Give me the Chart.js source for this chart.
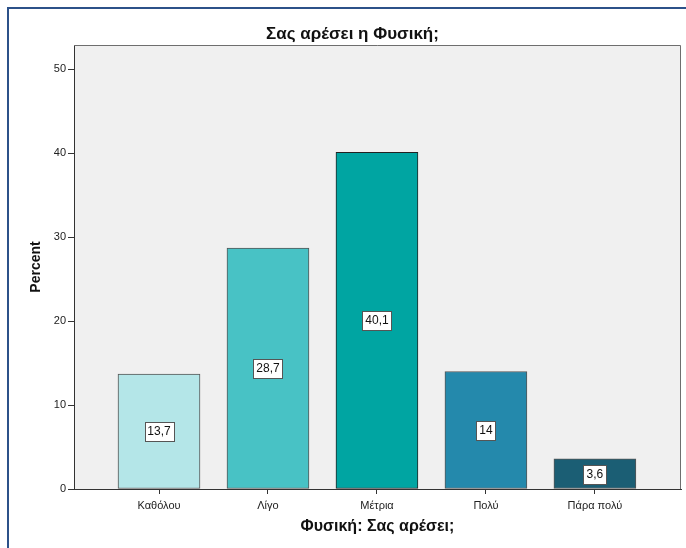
<!DOCTYPE html>
<html>
<head>
<meta charset="utf-8">
<script src="https://cdn.jsdelivr.net/npm/chart.js@4.4.1/dist/chart.umd.min.js"></script>
<style>
html,body{margin:0;padding:0;background:#fff;}
#wrap{width:686px;height:548px;position:relative;}
</style>
</head>
<body>
<div id="wrap"><canvas id="c" width="686" height="548"></canvas></div>
<script>
const categories = ["Καθόλου", "Λίγο", "Μέτρια", "Πολύ", "Πάρα πολύ"];
const percentValues = [13.7, 28.7, 40.1, 14, 3.6];
const valueLabels = ["13,7", "28,7", "40,1", "14", "3,6"];
const yTicks = [0, 10, 20, 30, 40, 50];
const barColors = ["#B4E6E8", "#48C2C5", "#00A5A2", "#2489AC", "#1B5E74"];
const barBorders = ["#555555", "#555555", "#222222", "#555555", "#555555"];
const chartTitle = "Σας αρέσει η Φυσική;";
const xTitle = "Φυσική: Σας αρέσει;";
const yTitle = "Percent";

const FONT = "'Liberation Sans', Arial, sans-serif";

const framePlugin = {
  id: 'frame',
  beforeDraw(chart) {
    const ctx = chart.ctx;
    const a = chart.chartArea;
    ctx.save();
    ctx.fillStyle = '#F0F0F0';
    ctx.fillRect(a.left, a.top, a.right - a.left, a.bottom - a.top);
    ctx.strokeStyle = '#2C5189';
    ctx.lineWidth = 2;
    ctx.beginPath();
    ctx.moveTo(8, 548);
    ctx.lineTo(8, 8);
    ctx.lineTo(686, 8);
    ctx.stroke();
    ctx.restore();
  },
  afterDatasetsDraw(chart) {
    const ctx = chart.ctx;
    const a = chart.chartArea;
    ctx.save();
    ctx.strokeStyle = '#6E6E6E';
    ctx.lineWidth = 1;
    ctx.beginPath();
    ctx.moveTo(a.left, a.top + 0.5);
    ctx.lineTo(a.right - 0.5, a.top + 0.5);
    ctx.lineTo(a.right - 0.5, a.bottom);
    ctx.stroke();
    const meta = chart.getDatasetMeta(0);
    ctx.font = '12px ' + FONT;
    ctx.textAlign = 'center';
    ctx.textBaseline = 'middle';
    meta.data.forEach((bar, i) => {
      const txt = valueLabels[i];
      const cy = Math.round((bar.y + bar.base) / 2);
      const w = Math.round(ctx.measureText(txt).width) + 6;
      const h = 19;
      const x0 = Math.round(bar.x - w / 2) + 0.5;
      const y0 = Math.round(cy - h / 2) + 0.5;
      ctx.fillStyle = '#FFFFFF';
      ctx.fillRect(x0, y0, w, h);
      ctx.strokeStyle = '#555555';
      ctx.lineWidth = 1;
      ctx.strokeRect(x0, y0, w, h);
      ctx.fillStyle = '#111111';
      ctx.fillText(txt, bar.x, cy + 1);
    });
    ctx.restore();
  }
};

new Chart(document.getElementById('c'), {
  type: 'bar',
  data: {
    datasets: [{
      data: percentValues.map((v, i) => ({ x: i, y: v })),
      backgroundColor: barColors,
      borderColor: barBorders,
      borderWidth: 1,
      borderSkipped: false,
      barThickness: 82
    }]
  },
  options: {
    responsive: false,
    animation: false,
    events: [],
    layout: { padding: { left: 24, right: 5, top: 0, bottom: 0 } },
    plugins: {
      legend: { display: false },
      tooltip: { enabled: false },
      title: {
        display: true,
        text: chartTitle,
        color: '#111111',
        font: { family: FONT, size: 17, weight: 'bold', lineHeight: 1.2 },
        padding: { top: 24, bottom: 0.6 }
      }
    },
    scales: {
      x: {
        type: 'linear',
        offset: false,
        min: -0.78,
        max: 4.79,
        afterBuildTicks(scale) {
          scale.ticks = categories.map((c, i) => ({ value: i }));
        },
        afterFit(scale) { scale.height = 59; },
        ticks: {
          callback: (v) => categories[v],
          color: '#222222',
          font: { family: FONT, size: 11 },
          padding: 5,
          maxRotation: 0,
          autoSkip: false
        },
        grid: {
          offset: false,
          drawOnChartArea: false,
          drawTicks: true,
          tickLength: 5,
          tickColor: '#333333'
        },
        border: { display: true, color: '#333333', width: 1 },
        title: {
          display: true,
          text: xTitle,
          color: '#111111',
          font: { family: FONT, size: 16, weight: 'bold', lineHeight: 1.2 },
          padding: { top: 0, bottom: 12 }
        }
      },
      y: {
        min: 0,
        max: 52.9,
        afterBuildTicks(scale) {
          scale.ticks = yTicks.map(v => ({ value: v }));
        },
        afterFit(scale) { scale.width = 50; },
        ticks: {
          color: '#222222',
          font: { family: FONT, size: 11 },
          padding: 2
        },
        grid: {
          drawOnChartArea: false,
          drawTicks: true,
          tickLength: 6,
          tickColor: '#333333'
        },
        border: { display: true, color: '#333333', width: 1 },
        title: {
          display: true,
          text: yTitle,
          color: '#111111',
          font: { family: FONT, size: 14, weight: 'bold', lineHeight: 1.2 },
          padding: { top: 4, bottom: 0 }
        }
      }
    }
  },
  plugins: [framePlugin]
});
</script>
</body>
</html>
